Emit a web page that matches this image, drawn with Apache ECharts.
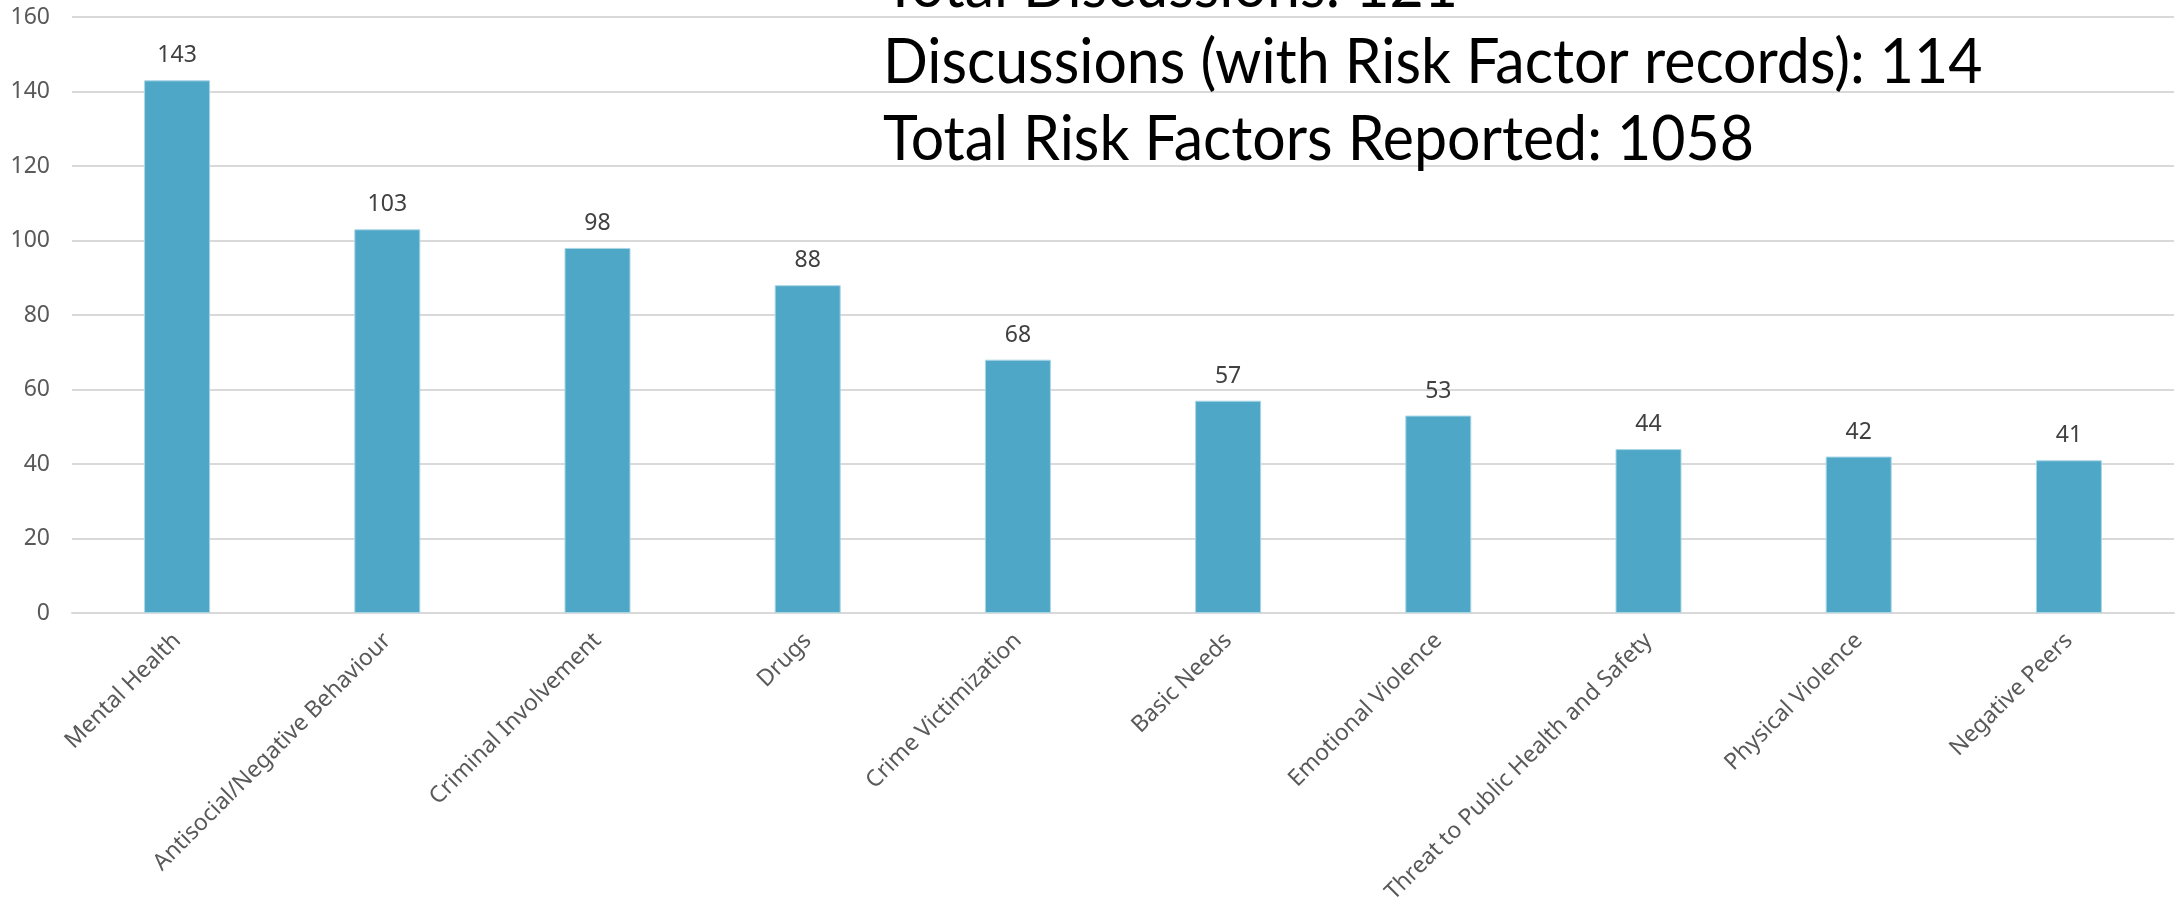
<!DOCTYPE html>
<html>
<head>
<meta charset="utf-8">
<script src="https://cdn.jsdelivr.net/npm/echarts@6/dist/echarts.min.js"></script>
<style>
html,body{margin:0;padding:0;background:#fff;}
#chart{width:2177px;height:907px;}
</style>
</head>
<body>
<div id="chart"></div>
<script>
const categories = ["Mental Health","Antisocial/Negative Behaviour","Criminal Involvement","Drugs","Crime Victimization","Basic Needs","Emotional Violence","Threat to Public Health and Safety","Physical Violence","Negative Peers"];
const values = [143,103,98,88,68,57,53,44,42,41];
const yTicks = {min:0, max:160, interval:20};
const infoLines = ["Total Discussions: 121","Discussions (with Risk Factor records): 114","Total Risk Factors Reported: 1058"];

const chart = echarts.init(document.getElementById('chart'), null, {renderer:'canvas'});
const lineY = [-13, 63, 140];
chart.setOption({
  animation:false,
  backgroundColor:'#ffffff',
  grid:{left:72, right:3, top:17, bottom:294, containLabel:false},
  xAxis:{
    type:'category',
    data:categories,
    axisLine:{show:true, lineStyle:{color:'#d9d9d9', width:2}},
    axisTick:{show:false},
    axisLabel:{rotate:45, interval:0, margin:24, color:'#595959', fontFamily:'Noto Sans', fontSize:23}
  },
  yAxis:{
    type:'value',
    min:yTicks.min, max:yTicks.max, interval:yTicks.interval,
    axisLine:{show:false},
    axisTick:{show:false},
    splitLine:{lineStyle:{color:'#d9d9d9', width:2}},
    axisLabel:{margin:22, color:'#595959', fontFamily:'Noto Sans', fontSize:23}
  },
  series:[{
    type:'bar',
    data:values,
    barWidth:66,
    itemStyle:{color:'#4FA7C7', borderColor:'#a9d6e5', borderWidth:1},
    label:{show:true, position:'top', distance:13, color:'#404040', fontFamily:'Noto Sans', fontSize:23},
    z:2
  }],
  graphic: infoLines.map((t,i)=>({
    type:'text',
    x:883,
    y:lineY[i],
    scaleX:0.952,
    z:10,
    style:{text:t, fill:'#000000', fontFamily:'Lato', fontSize:62, verticalAlign:'middle', align:'left'}
  }))
});
</script>
</body>
</html>
